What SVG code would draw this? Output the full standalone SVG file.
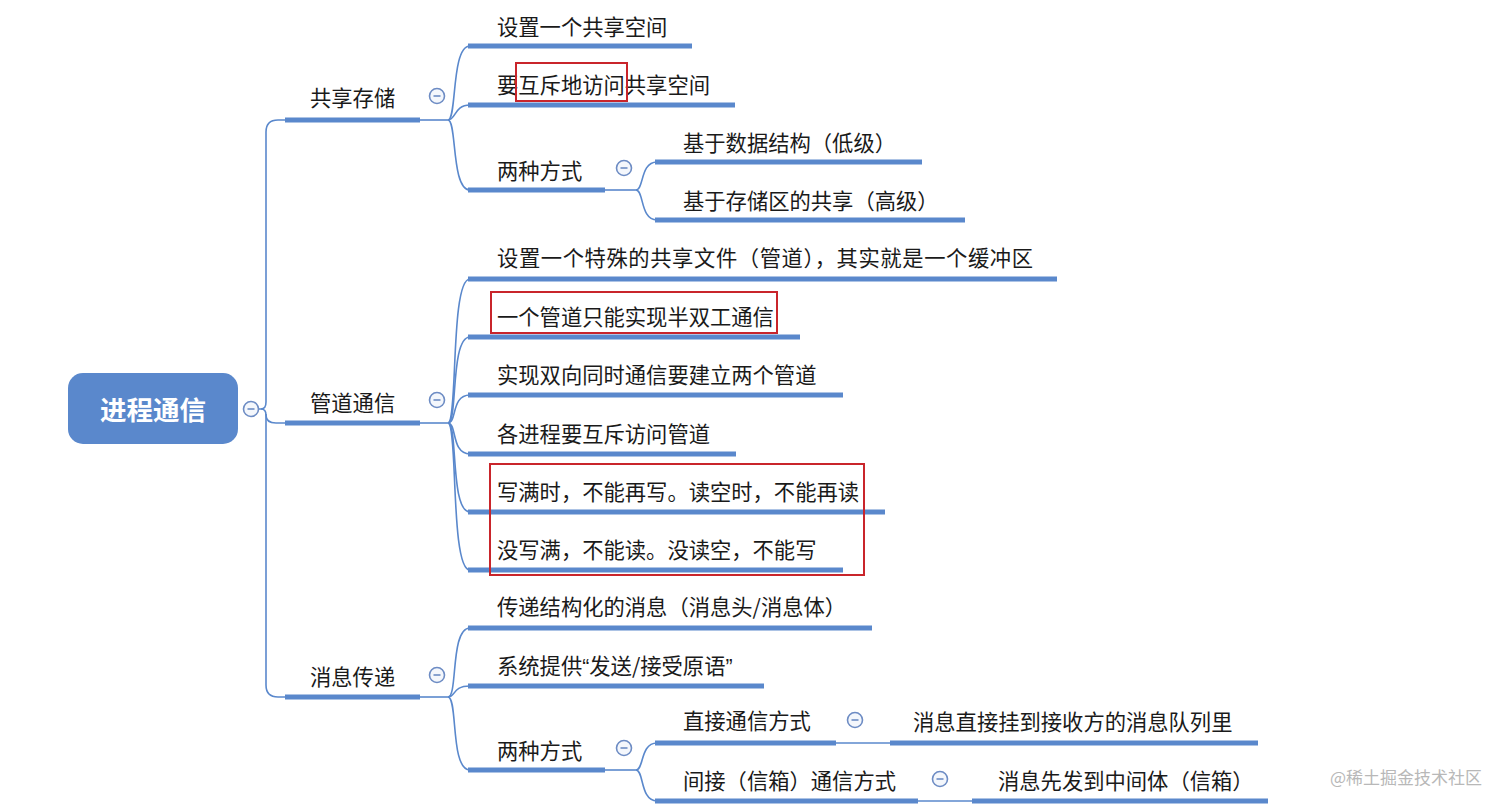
<svg xmlns="http://www.w3.org/2000/svg" width="1512" height="810" viewBox="0 0 1512 810">
<style>
.t{font-family:"Noto Sans CJK SC","Noto Sans",sans-serif;font-size:21.3px;fill:#1a1a1a}
.u{stroke:#5a88cc;stroke-width:5;fill:none}
.c{stroke:#5a88cc;stroke-width:1.6;fill:none}
.col{fill:#f4f7fc;stroke:#6d8cc4;stroke-width:1.6}
.m{stroke:#6d8cc4;stroke-width:1.6}
.red{fill:none;stroke:#c9252b;stroke-width:2}
</style>
<defs>
<g id="minus"><circle r="7.5" class="col"/><line x1="-3.5" y1="0" x2="3.5" y2="0" class="m"/></g>
</defs>
<rect width="1512" height="810" fill="#ffffff"/>

<g id="connectors">
<path class="c" d="M258,409 H261 Q266,409 266,402 V132 Q266,120 278,120 H286"/>
<path class="c" d="M261,409 Q266,409 266,415 Q266,423 276,423 H286"/>
<path class="c" d="M266,414 V685 Q266,697 278,697 H286"/>
<path class="c" d="M420,120 H448"/>
<path class="c" d="M448,120 C457,120 451,46 470,46"/>
<path class="c" d="M448,120 C456,120 454,105 470,105"/>
<path class="c" d="M448,120 C457,120 451,190 470,190"/>
<path class="c" d="M605,190 H636"/>
<path class="c" d="M636,190 C644,190 640,162 657,162"/>
<path class="c" d="M636,190 C644,190 640,220 657,220"/>
<path class="c" d="M420,423 H448"/>
<path class="c" d="M448,423 C458,423 450,279 470,279"/>
<path class="c" d="M448,423 C458,423 450,337 470,337"/>
<path class="c" d="M448,423 C457,423 451,395 470,395"/>
<path class="c" d="M448,423 C457,423 451,454 470,454"/>
<path class="c" d="M448,423 C458,423 450,512 470,512"/>
<path class="c" d="M448,423 C458,423 450,570 470,570"/>
<path class="c" d="M420,697 H448"/>
<path class="c" d="M448,697 C458,697 450,628 470,628"/>
<path class="c" d="M448,697 C456,697 452,686 470,686"/>
<path class="c" d="M448,697 C458,697 450,770 470,770"/>
<path class="c" d="M605,770 H636"/>
<path class="c" d="M636,770 C644,770 640,743 657,743"/>
<path class="c" d="M636,770 C644,770 640,801 657,801"/>
<path class="c" d="M836,743 H890"/>
<path class="c" d="M918,801 H972"/>
</g>

<g id="root">
<rect x="68" y="373" width="170" height="71" rx="15" fill="#5a88cc"/>
<text x="153" y="420" text-anchor="middle" font-family="'Noto Sans CJK SC',sans-serif" font-size="26.5" font-weight="bold" fill="#ffffff">进程通信</text>
<use href="#minus" x="251" y="409"/>
</g>

<g id="n-gxcc">
<text class="t" x="310" y="106">共享存储</text>
<line class="u" x1="285" y1="120" x2="420" y2="120"/>
<use href="#minus" x="437" y="96"/>
</g>
<g id="n-gx1">
<text class="t" x="497" y="35">设置一个共享空间</text>
<line class="u" x1="468" y1="46" x2="692" y2="46"/>
</g>
<g id="n-gx2">
<text class="t" x="497" y="93">要互斥地访问共享空间</text>
<line class="u" x1="468" y1="105" x2="735" y2="105"/>
<rect class="red" x="516" y="63" width="111" height="38"/>
</g>
<g id="n-gx3">
<text class="t" x="497" y="179">两种方式</text>
<line class="u" x1="468" y1="190" x2="605" y2="190"/>
<use href="#minus" x="624" y="168"/>
</g>
<g id="n-gx31">
<text class="t" x="683" y="151">基于数据结构（低级）</text>
<line class="u" x1="655" y1="162" x2="922" y2="162"/>
</g>
<g id="n-gx32">
<text class="t" x="683" y="209">基于存储区的共享（高级）</text>
<line class="u" x1="655" y1="220" x2="965" y2="220"/>
</g>

<g id="n-gdtx">
<text class="t" x="310" y="411">管道通信</text>
<line class="u" x1="285" y1="423" x2="420" y2="423"/>
<use href="#minus" x="437" y="400"/>
</g>
<g id="n-gd1">
<text class="t" x="497" y="266" textLength="536" lengthAdjust="spacing">设置一个特殊的共享文件（管道），其实就是一个缓冲区</text>
<line class="u" x1="468" y1="279" x2="1057" y2="279"/>
</g>
<g id="n-gd2">
<text class="t" x="497" y="325">一个管道只能实现半双工通信</text>
<line class="u" x1="468" y1="337" x2="800" y2="337"/>
<rect class="red" x="491" y="292" width="286" height="41"/>
</g>
<g id="n-gd3">
<text class="t" x="497" y="383">实现双向同时通信要建立两个管道</text>
<line class="u" x1="468" y1="395" x2="843" y2="395"/>
</g>
<g id="n-gd4">
<text class="t" x="497" y="442">各进程要互斥访问管道</text>
<line class="u" x1="468" y1="454" x2="736" y2="454"/>
</g>
<g id="n-gd5">
<text class="t" x="497" y="500">写满时，不能再写。读空时，不能再读</text>
<line class="u" x1="468" y1="512" x2="885" y2="512"/>
</g>
<g id="n-gd6">
<text class="t" x="497" y="558">没写满，不能读。没读空，不能写</text>
<line class="u" x1="468" y1="570" x2="843" y2="570"/>
</g>
<rect class="red" x="490" y="464" width="374" height="111"/>

<g id="n-xxcd">
<text class="t" x="310" y="685">消息传递</text>
<line class="u" x1="285" y1="697" x2="420" y2="697"/>
<use href="#minus" x="437" y="675"/>
</g>
<g id="n-xx1">
<text class="t" x="497" y="615">传递结构化的消息（消息头/消息体）</text>
<line class="u" x1="468" y1="628" x2="872" y2="628"/>
</g>
<g id="n-xx2">
<text class="t" x="497" y="674">系统提供<tspan font-family="'Liberation Sans',sans-serif">“</tspan>发送/接受原语<tspan font-family="'Liberation Sans',sans-serif">”</tspan></text>
<line class="u" x1="468" y1="686" x2="764" y2="686"/>
</g>
<g id="n-xx3">
<text class="t" x="497" y="759">两种方式</text>
<line class="u" x1="468" y1="770" x2="605" y2="770"/>
<use href="#minus" x="624" y="748"/>
</g>
<g id="n-xx31">
<text class="t" x="683" y="729">直接通信方式</text>
<line class="u" x1="655" y1="743" x2="836" y2="743"/>
<use href="#minus" x="855" y="720"/>
</g>
<g id="n-xx311">
<text class="t" x="913" y="730">消息直接挂到接收方的消息队列里</text>
<line class="u" x1="890" y1="743" x2="1258" y2="743"/>
</g>
<g id="n-xx32">
<text class="t" x="683" y="789">间接（信箱）通信方式</text>
<line class="u" x1="655" y1="801" x2="918" y2="801"/>
<use href="#minus" x="940" y="779"/>
</g>
<g id="n-xx321">
<text class="t" x="998" y="789">消息先发到中间体（信箱）</text>
<line class="u" x1="972" y1="801" x2="1268" y2="801"/>
</g>

<text x="1330" y="784" font-family="'Noto Sans CJK SC',sans-serif" font-size="17" fill="#b8b8b8">@稀土掘金技术社区</text>
</svg>
